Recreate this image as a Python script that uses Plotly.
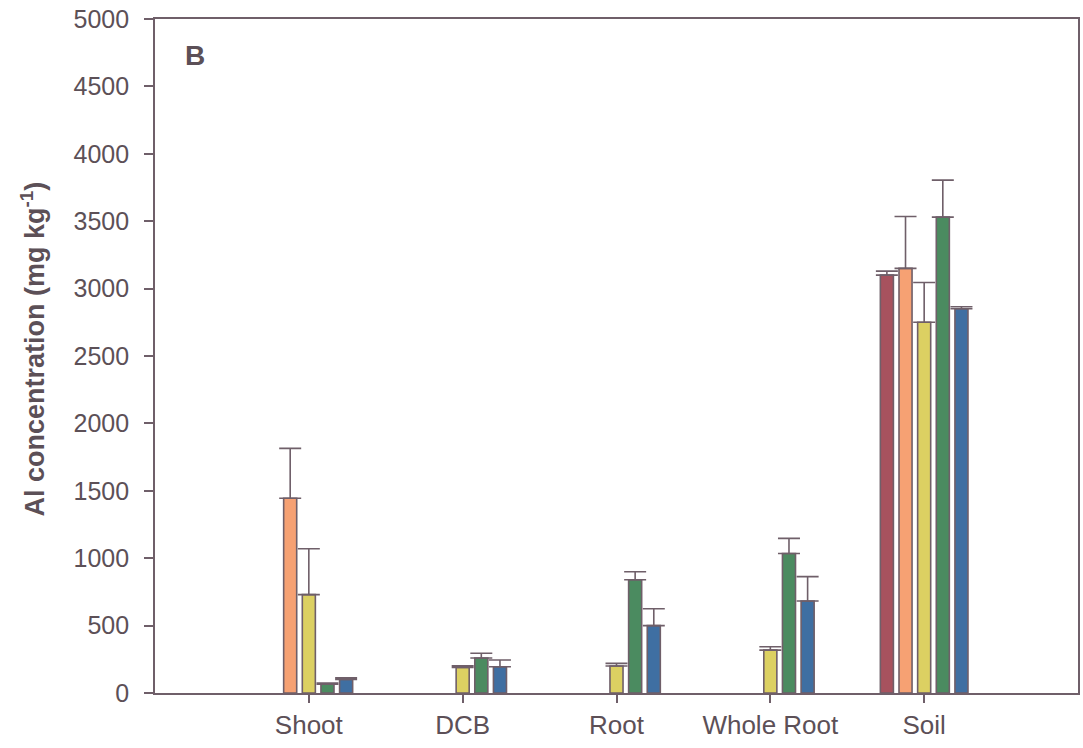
import plotly.graph_objects as go

# Al concentration by plant part / soil, five treatments
categories = ["Shoot", "DCB", "Root", "Whole Root", "Soil"]

series_names = ["T1", "T2", "T3", "T4", "T5"]
series_colors = ["#a7525e", "#f6a173", "#dcd062", "#4b8b60", "#3f6fa2"]

values = [
    [None, None, None, None, 3100],   # T1
    [1445, None, None, None, 3150],   # T2
    [730, 190, 200, 318, 2750],       # T3
    [65, 260, 840, 1035, 3530],       # T4
    [100, 195, 500, 683, 2850],       # T5
]
errors = [
    [0, 0, 0, 0, 30],
    [370, 0, 0, 0, 385],
    [340, 12, 20, 25, 295],
    [8, 35, 60, 112, 275],
    [12, 50, 125, 180, 15],
]

y_ticks = [0, 500, 1000, 1500, 2000, 2500, 3000, 3500, 4000, 4500, 5000]

line_col = "#6f5f69"
text_col = "#5c5057"
font_family = "Liberation Sans, Arial, sans-serif"

fig = go.Figure()
for name, col, vals, errs in zip(series_names, series_colors, values, errors):
    fig.add_trace(go.Bar(
        x=categories,
        y=vals,
        name=name,
        marker=dict(color=col, line=dict(color=line_col, width=1.6)),
        error_y=dict(
            type="data",
            symmetric=False,
            array=[e if v is not None else None for v, e in zip(vals, errs)],
            arrayminus=[0] * len(vals),
            color=line_col,
            thickness=1.6,
            width=11,
        ),
    ))

fig.update_layout(
    width=1083,
    height=748,
    margin=dict(l=155, r=3, t=19, b=55),
    paper_bgcolor="white",
    plot_bgcolor="white",
    barmode="group",
    bargap=0.394,
    bargroupgap=0.3,
    showlegend=False,
    font=dict(family=font_family, color=text_col, size=25),
)

fig.update_xaxes(
    type="category",
    range=[-1, 5],
    showgrid=False,
    showline=True,
    linecolor=line_col,
    linewidth=1.6,
    mirror=True,
    ticks="outside",
    ticklen=8,
    tickwidth=1.6,
    tickcolor=line_col,
    tickfont=dict(size=26, color=text_col),
    zeroline=False,
)

fig.update_yaxes(
    range=[0, 5000],
    tickvals=y_ticks,
    showgrid=False,
    showline=True,
    linecolor=line_col,
    linewidth=1.6,
    mirror=True,
    ticks="outside",
    ticklen=9,
    tickwidth=1.6,
    tickcolor=line_col,
    ticklabelstandoff=10,
    tickfont=dict(size=25, color=text_col),
    zeroline=False,
)

# y-axis title
fig.add_annotation(
    text="<b>Al concentration (mg kg<sup>-1</sup>)</b>",
    xref="paper", yref="paper",
    x=(33 - 155) / 925, y=0.51,
    xanchor="center", yanchor="middle",
    textangle=-90,
    showarrow=False,
    font=dict(size=27, color=text_col, family=font_family),
)

# panel letter
fig.add_annotation(
    text="<b>B</b>",
    xref="paper", yref="paper",
    x=(195 - 155) / 925, y=(693 - 56) / 674,
    xanchor="center", yanchor="middle",
    showarrow=False,
    font=dict(size=28, color=text_col, family=font_family),
)

fig.write_html("out.html")
